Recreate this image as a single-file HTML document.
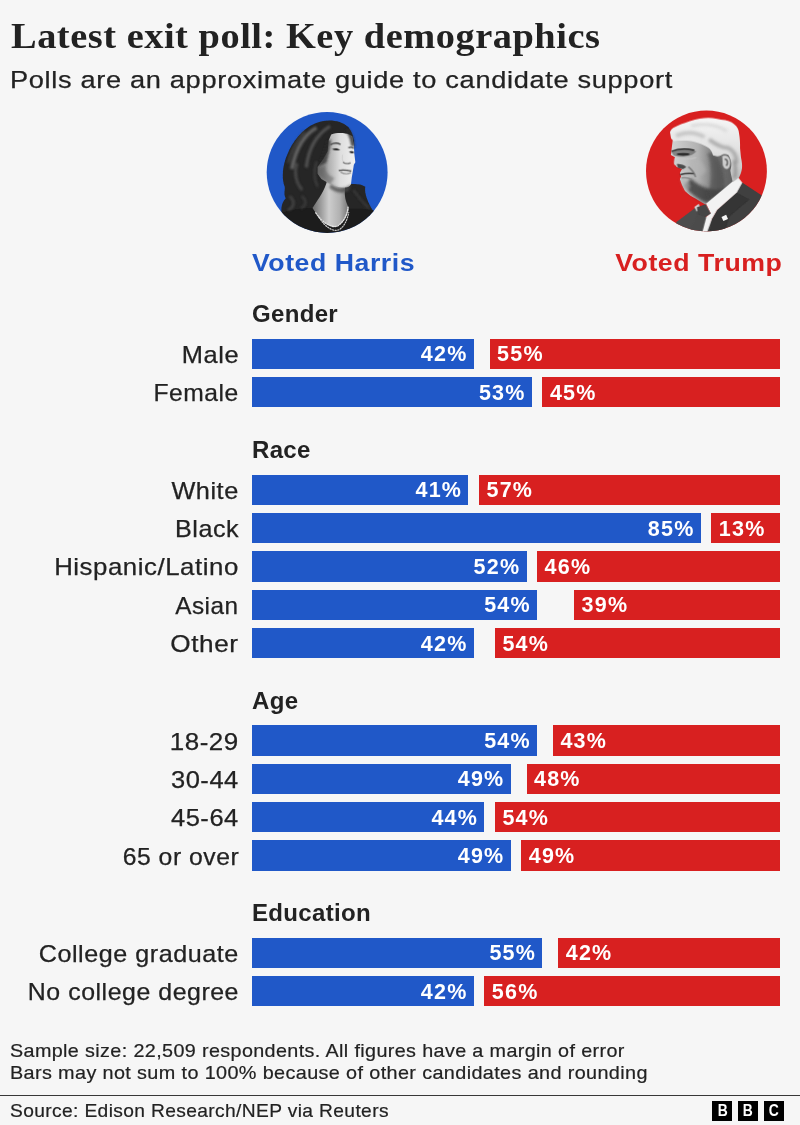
<!DOCTYPE html>
<html lang="en"><head><meta charset="utf-8"><title>Latest exit poll: Key demographics</title>
<style>
html,body{margin:0;padding:0}
body{width:800px;height:1125px;background:#f6f6f6;position:relative;overflow:hidden;font-family:"Liberation Sans",Arial,sans-serif;color:#222}
.t{position:absolute;white-space:nowrap;line-height:1;margin:0}
h1.t{left:10.8px;top:18.3px;font-family:"Liberation Serif","Times New Roman",serif;font-weight:bold;font-size:36px;letter-spacing:.5px;transform-origin:0 0;transform:scaleX(1.066)}
.sub{left:10.3px;top:68px;font-size:24.5px;letter-spacing:.6px;transform-origin:0 0;transform:scaleX(1.110);-webkit-text-stroke:.25px #222}
.vh{left:252.4px;top:250.8px;font-weight:bold;font-size:24.5px;letter-spacing:.5px;color:#2058c8;transform-origin:0 0;transform:scaleX(1.088)}
.vt{right:17.5px;top:250.9px;font-weight:bold;font-size:24.5px;letter-spacing:.5px;color:#d82020;transform-origin:100% 0;transform:scaleX(1.09)}
.gh{font-weight:bold;font-size:23px;letter-spacing:.3px;transform-origin:0 0;transform:scaleX(1.045)}
.lab{right:561.1px;font-size:23.6px;letter-spacing:.5px;padding-top:1.2px;-webkit-text-stroke:.25px #222;height:30.3px;line-height:30.3px;text-align:right;transform-origin:100% 50%}
.bar span{position:relative;top:.7px}
.bar{position:absolute;height:30.3px;line-height:30.3px;color:#fff;font-weight:bold;font-size:21.5px;letter-spacing:1.2px;white-space:nowrap;box-sizing:border-box}
.bar.b{background:#2058c8;text-align:right;padding-right:6.3px}
.bar.r{background:#d82020;text-align:left;padding-left:7.5px}
.note{left:10px;font-size:18.4px;letter-spacing:.35px;transform-origin:0 0;-webkit-text-stroke:.2px #222}
.rule{position:absolute;left:0;top:1094.6px;width:800px;height:1.4px;background:#383838}
.bbc{position:absolute;top:1101px;width:20.2px;height:20.3px;background:#000;color:#fff;font-weight:bold;font-size:15.8px;line-height:20.9px;text-align:center}
.bbc b{display:inline-block;transform:scaleX(.88)}
.pic{position:absolute;width:120px;height:120px}
</style></head><body>
<h1 class="t">Latest exit poll: Key demographics</h1>
<div class="t sub">Polls are an approximate guide to candidate support</div>
<div class="pic" style="left:267px;top:112px"><svg viewBox="0 0 800 800" width="100%" height="100%" style="overflow:visible">
<defs>
<clipPath id="hc"><circle cx="401" cy="403" r="403"/></clipPath>
<filter id="hb" x="-5%" y="-5%" width="110%" height="110%"><feGaussianBlur stdDeviation="4"/></filter>
<filter id="hb2" x="-20%" y="-20%" width="140%" height="140%"><feGaussianBlur stdDeviation="8"/></filter>
<filter id="hb3" x="-20%" y="-20%" width="140%" height="140%"><feGaussianBlur stdDeviation="3"/></filter>
<linearGradient id="hface" x1="0" y1="0" x2="1" y2="0"><stop offset="0" stop-color="#5e5e5e"/><stop offset=".3" stop-color="#b0b0b0"/><stop offset=".6" stop-color="#dedede"/><stop offset="1" stop-color="#f0f0f0"/></linearGradient>
<linearGradient id="hneck" x1="0" y1="0" x2="1" y2="0"><stop offset="0" stop-color="#6a6a6a"/><stop offset=".45" stop-color="#cdcdcd"/><stop offset=".75" stop-color="#b0b0b0"/><stop offset="1" stop-color="#6e6e6e"/></linearGradient>
</defs>
<circle cx="401" cy="403" r="403" fill="#2058c8"/>
<g clip-path="url(#hc)">
<g filter="url(#hb)">
<path d="M100,690 C90,640 98,605 125,575 C108,545 122,520 118,498 C95,440 105,350 135,285 C170,195 235,112 320,76 C390,46 485,48 542,100 C565,130 578,160 580,215 L560,300 L540,482 C580,478 625,476 655,498 C648,545 672,600 705,655 L770,700 L810,810 L50,810 Z" fill="#262626"/>
<path d="M50,810 L100,672 C180,645 250,640 305,640 C340,700 400,765 450,768 C500,755 535,700 548,645 C600,640 660,648 705,655 L770,700 L810,810 Z" fill="#1b1b1b"/>
<path d="M400,460 C385,520 350,570 303,640 C340,700 400,762 450,766 C500,752 535,700 548,645 C525,600 512,560 522,498 Z" fill="url(#hneck)"/>
<path d="M428,150 C465,136 520,138 548,150 L568,162 L579,222 L582,277 L589,335 L579,352 L572,397 L565,437 L560,482 C550,497 540,503 527,504 C495,506 465,498 437,488 C405,472 380,458 362,447 L337,412 L337,367 L377,312 L404,262 L412,187 Z" fill="url(#hface)"/>
</g>
<g filter="url(#hb2)">
<path d="M330,105 C250,150 190,250 165,380" stroke="#707070" stroke-width="24" fill="none" opacity=".85"/>
<path d="M420,95 C330,150 275,250 262,370" stroke="#5e5e5e" stroke-width="20" fill="none" opacity=".85"/>
<path d="M250,130 C200,190 160,260 140,340" stroke="#4a4a4a" stroke-width="14" fill="none" opacity=".8"/>
<path d="M200,340 C180,400 190,470 235,520" stroke="#585858" stroke-width="18" fill="none" opacity=".75"/>
<path d="M330,330 C310,400 310,450 340,500" stroke="#4c4c4c" stroke-width="14" fill="none" opacity=".7"/>
<path d="M150,560 C195,600 175,640 140,652" stroke="#555" stroke-width="16" fill="none" opacity=".7"/>
<path d="M230,560 C270,590 260,630 225,640" stroke="#484848" stroke-width="14" fill="none" opacity=".7"/>
<path d="M575,520 C610,560 640,610 680,640" stroke="#444" stroke-width="14" fill="none" opacity=".7"/>
<path d="M425,480 C465,515 520,520 560,478 L545,525 C500,548 452,538 415,505 Z" fill="#4a4a4a" opacity=".75"/>
<path d="M350,380 C345,420 365,450 420,480 L450,440 C400,420 385,390 390,350 Z" fill="#555" opacity=".45"/>
<path d="M400,190 C385,255 362,310 340,360 L395,340 C410,290 420,240 428,185 Z" fill="#2a2a2a" opacity=".7"/>
<path d="M540,110 C570,140 582,180 584,235 L560,225 C555,180 545,150 520,125 Z" fill="#2a2a2a" opacity=".85"/>
</g>
<g filter="url(#hb3)">
<path d="M422,218 C445,205 470,205 490,216" stroke="#444" stroke-width="9" fill="none"/>
<path d="M432,248 C450,238 472,240 488,252 C470,258 450,258 432,248 Z" fill="#222"/>
<path d="M542,238 C555,232 568,234 578,242" stroke="#444" stroke-width="8" fill="none"/>
<path d="M547,266 C558,258 572,260 582,270 C570,278 556,276 547,266 Z" fill="#222"/>
<path d="M504,285 C500,302 501,318 507,330" stroke="#b5b5b5" stroke-width="7" fill="none" opacity=".35"/>
<path d="M506,334 C522,346 540,346 558,338" stroke="#666" stroke-width="9" fill="none" opacity=".85"/>
<path d="M478,390 C505,384 535,388 562,394" stroke="#4a4a4a" stroke-width="9" fill="none"/>
<path d="M490,400 C515,415 540,415 560,404" stroke="#8a8a8a" stroke-width="9" fill="none" opacity=".8"/>
</g>
<path d="M325,672 C370,740 430,775 470,760 C510,735 535,690 540,635" stroke="#e8e8e8" stroke-width="9" stroke-dasharray="9 9" stroke-linecap="round" fill="none" opacity=".95"/>
<path d="M345,700 C390,770 440,800 480,785 C515,765 535,720 545,670" stroke="#dcdcdc" stroke-width="8" stroke-dasharray="8 10" stroke-linecap="round" fill="none" opacity=".9"/>
</g>
</svg>
</div>
<div class="pic" style="left:646px;top:111px"><svg viewBox="0 0 800 800" width="100%" height="100%" style="overflow:visible">
<defs>
<clipPath id="tc"><circle cx="403" cy="400" r="403"/></clipPath>
<filter id="tb" x="-5%" y="-5%" width="110%" height="110%"><feGaussianBlur stdDeviation="4"/></filter>
<filter id="tb2" x="-20%" y="-20%" width="140%" height="140%"><feGaussianBlur stdDeviation="9"/></filter>
<filter id="tb3" x="-20%" y="-20%" width="140%" height="140%"><feGaussianBlur stdDeviation="4"/></filter>
<linearGradient id="tface" x1="0" y1="0" x2="1" y2="0"><stop offset="0" stop-color="#d2d2d2"/><stop offset=".38" stop-color="#b2b2b2"/><stop offset=".66" stop-color="#707070"/><stop offset="1" stop-color="#555"/></linearGradient>
<linearGradient id="thair" x1="0" y1="0" x2="0" y2="1"><stop offset="0" stop-color="#f6f6f6"/><stop offset=".5" stop-color="#e2e2e2"/><stop offset="1" stop-color="#bcbcbc"/></linearGradient>
</defs>
<circle cx="403" cy="400" r="403" fill="#d82020"/>
<g clip-path="url(#tc)">
<g filter="url(#tb)">
<path d="M636,474 L775,565 L815,620 L815,815 L380,815 L440,720 L475,660 L600,545 Z" fill="#404040"/>
<path d="M352,628 L205,738 L155,815 L300,815 L350,700 Z" fill="#4e4e4e"/>
<path d="M178,195 L170,260 L166,293 L193,308 L188,352 L205,374 L240,386 L226,413 L234,435 L226,455 L240,494 L260,533 C285,560 305,570 327,582 L395,624 L500,600 L620,445 L640,380 L600,150 L300,150 Z" fill="url(#tface)"/>
</g>
<g filter="url(#tb2)">
<path d="M250,498 C300,555 350,595 410,612 L540,510 C470,540 370,520 300,450 Z" fill="#2e2e2e" opacity=".75"/>
<path d="M410,280 C440,370 440,470 410,570 L520,520 C530,430 500,340 460,280 Z" fill="#4a4a4a" opacity=".6"/>
<path d="M290,320 C340,310 390,340 400,400 C380,440 330,440 300,410 Z" fill="#b4b4b4" opacity=".6"/>
<path d="M232,455 C260,450 290,470 290,510 L262,528 Z" fill="#b0b0b0" opacity=".7"/>
</g>
<g filter="url(#tb3)">
<path d="M170,274 C215,256 275,252 335,268 C318,292 290,302 250,304 C225,305 200,302 184,296 Z" fill="#555" opacity=".6"/>
<path d="M170,270 C210,254 270,250 322,262" stroke="#2a2a2a" stroke-width="11" fill="none" opacity=".9"/>
<ellipse cx="248" cy="288" rx="44" ry="9" fill="#1e1e1e" opacity=".85"/>
<path d="M228,318 C260,322 300,322 335,310" stroke="#c4c4c4" stroke-width="12" fill="none" opacity=".7"/>
<path d="M206,352 C232,352 258,358 268,374 L246,388 L212,378 Z" fill="#2c2c2c" opacity=".8"/>
<path d="M196,312 C192,330 190,345 196,360" stroke="#cfcfcf" stroke-width="12" fill="none" opacity=".8"/>
<path d="M228,424 C258,416 290,414 322,418" stroke="#2e2e2e" stroke-width="10" fill="none" opacity=".9"/>
<path d="M282,372 C305,390 322,410 330,440" stroke="#6a6a6a" stroke-width="10" fill="none" opacity=".8"/>
<path d="M236,446 C262,442 285,446 300,455" stroke="#777" stroke-width="9" fill="none" opacity=".7"/>
</g>
<g filter="url(#tb)">
<path d="M400,618 L613,440 L642,478 L605,545 L475,660 L440,720 L405,815 L358,815 L385,720 L430,682 Z" fill="#f2f2f2"/>
<path d="M322,640 L352,618 L362,650 L338,672 Z" fill="#cfcfcf"/>
<path d="M340,642 L398,622 L432,684 L385,715 L345,692 Z" fill="#444"/>
<path d="M345,690 L402,708 L374,815 L285,815 Z" fill="#4c4c4c"/>
<path d="M605,545 L475,660 L440,720 L420,815 L520,815 L560,700 L690,590 Z" fill="#303030" opacity=".75"/>
<path d="M167,182 L160,140 C170,112 200,98 293,67 C340,52 380,46 413,45 C450,44 480,52 500,58 C540,60 570,72 587,87 C610,105 618,125 620,147 C626,180 628,215 627,247 L633,307 C640,340 642,360 640,380 C636,410 628,428 620,442 L578,474 C572,440 565,420 562,395 C575,360 570,325 548,292 C530,285 512,288 500,296 C480,305 462,302 447,296 C440,270 430,248 393,232 C360,215 330,205 300,200 C260,196 220,196 187,200 C180,195 172,190 167,182 Z" fill="url(#thair)"/>
</g>
<g filter="url(#tb2)">
<path d="M200,165 C260,140 330,140 390,175" stroke="#bdbdbd" stroke-width="26" fill="none" opacity=".85"/>
<path d="M300,100 C380,80 470,90 540,135" stroke="#cfcfcf" stroke-width="18" fill="none" opacity=".8"/>
<path d="M420,190 C470,225 510,250 545,245 C585,262 605,300 605,350" stroke="#9a9a9a" stroke-width="24" fill="none" opacity=".8"/>
<path d="M585,330 C600,370 600,410 590,450" stroke="#8c8c8c" stroke-width="22" fill="none" opacity=".8"/>
</g>
<g filter="url(#tb3)">
<path d="M508,300 C545,282 572,322 558,368 C548,396 520,392 512,360 Z" fill="#cdcdcd"/>
<path d="M525,320 C545,320 548,350 535,365" stroke="#555" stroke-width="9" fill="none"/>
</g>
<rect x="508" y="698" width="34" height="30" fill="#f4f4f4" transform="rotate(-25 525 713)"/>
</g>
</svg>
</div>
<div class="t vh">Voted Harris</div>
<div class="t vt">Voted Trump</div>
<div class="t gh" style="left:252px;top:302.90px">Gender</div>
<div class="t lab" style="top:338.80px;transform:scaleX(1.078)">Male</div>
<div class="bar b" style="left:252.0px;top:338.80px;width:221.76px"><span>42%</span></div>
<div class="bar r" style="left:489.60px;top:338.80px;width:290.40px"><span>55%</span></div>
<div class="t lab" style="top:377.15px;transform:scaleX(1.044)">Female</div>
<div class="bar b" style="left:252.0px;top:377.15px;width:279.84px"><span>53%</span></div>
<div class="bar r" style="left:542.40px;top:377.15px;width:237.60px"><span>45%</span></div>
<div class="t gh" style="left:252px;top:438.70px">Race</div>
<div class="t lab" style="top:474.60px;transform:scaleX(1.073)">White</div>
<div class="bar b" style="left:252.0px;top:474.60px;width:216.48px"><span>41%</span></div>
<div class="bar r" style="left:479.04px;top:474.60px;width:300.96px"><span>57%</span></div>
<div class="t lab" style="top:512.95px;transform:scaleX(1.066)">Black</div>
<div class="bar b" style="left:252.0px;top:512.95px;width:448.80px"><span>85%</span></div>
<div class="bar r" style="left:711.36px;top:512.95px;width:68.64px"><span>13%</span></div>
<div class="t lab" style="top:551.30px;transform:scaleX(1.094)">Hispanic/Latino</div>
<div class="bar b" style="left:252.0px;top:551.30px;width:274.56px"><span>52%</span></div>
<div class="bar r" style="left:537.12px;top:551.30px;width:242.88px"><span>46%</span></div>
<div class="t lab" style="top:589.65px;transform:scaleX(1.030)">Asian</div>
<div class="bar b" style="left:252.0px;top:589.65px;width:285.12px"><span>54%</span></div>
<div class="bar r" style="left:574.08px;top:589.65px;width:205.92px"><span>39%</span></div>
<div class="t lab" style="top:628.00px;transform:scaleX(1.108)">Other</div>
<div class="bar b" style="left:252.0px;top:628.00px;width:221.76px"><span>42%</span></div>
<div class="bar r" style="left:494.88px;top:628.00px;width:285.12px"><span>54%</span></div>
<div class="t gh" style="left:252px;top:689.50px">Age</div>
<div class="t lab" style="top:725.40px;transform:scaleX(1.100)">18-29</div>
<div class="bar b" style="left:252.0px;top:725.40px;width:285.12px"><span>54%</span></div>
<div class="bar r" style="left:552.96px;top:725.40px;width:227.04px"><span>43%</span></div>
<div class="t lab" style="top:763.75px;transform:scaleX(1.081)">30-44</div>
<div class="bar b" style="left:252.0px;top:763.75px;width:258.72px"><span>49%</span></div>
<div class="bar r" style="left:526.56px;top:763.75px;width:253.44px"><span>48%</span></div>
<div class="t lab" style="top:802.10px;transform:scaleX(1.081)">45-64</div>
<div class="bar b" style="left:252.0px;top:802.10px;width:232.32px"><span>44%</span></div>
<div class="bar r" style="left:494.88px;top:802.10px;width:285.12px"><span>54%</span></div>
<div class="t lab" style="top:840.45px;transform:scaleX(1.048)">65 or over</div>
<div class="bar b" style="left:252.0px;top:840.45px;width:258.72px"><span>49%</span></div>
<div class="bar r" style="left:521.28px;top:840.45px;width:258.72px"><span>49%</span></div>
<div class="t gh" style="left:252px;top:901.70px">Education</div>
<div class="t lab" style="top:937.60px;transform:scaleX(1.065)">College graduate</div>
<div class="bar b" style="left:252.0px;top:937.60px;width:290.40px"><span>55%</span></div>
<div class="bar r" style="left:558.24px;top:937.60px;width:221.76px"><span>42%</span></div>
<div class="t lab" style="top:975.95px;transform:scaleX(1.056)">No college degree</div>
<div class="bar b" style="left:252.0px;top:975.95px;width:221.76px"><span>42%</span></div>
<div class="bar r" style="left:484.32px;top:975.95px;width:295.68px"><span>56%</span></div>
<div class="t note" style="top:1041.6px;transform:scaleX(1.074)">Sample size: 22,509 respondents. All figures have a margin of error</div>
<div class="t note" style="top:1064.2px;transform:scaleX(1.077)">Bars may not sum to 100% because of other candidates and rounding</div>
<div class="rule"></div>
<div class="t note" style="top:1101.7px;transform:scaleX(1.044)">Source: Edison Research/NEP via Reuters</div>
<div class="bbc" style="left:712.2px"><b>B</b></div><div class="bbc" style="left:737.9px"><b>B</b></div><div class="bbc" style="left:763.6px"><b>C</b></div>
</body></html>
